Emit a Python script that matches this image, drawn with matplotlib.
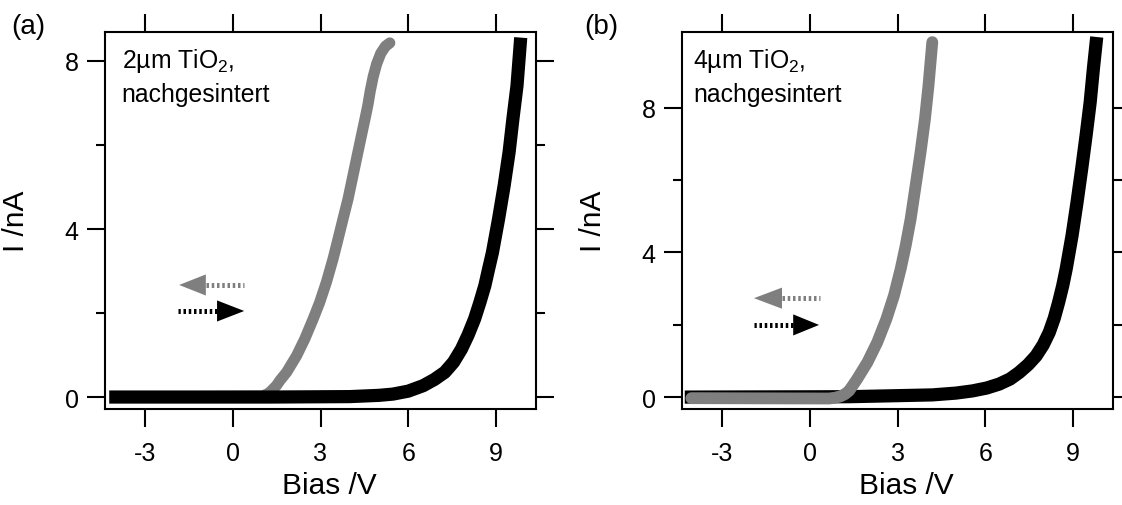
import matplotlib
matplotlib.use("Agg")
import matplotlib.pyplot as plt
from matplotlib.patches import Polygon

plt.rcParams['font.family'] = ['Liberation Sans', 'DejaVu Sans']
plt.rcParams['mathtext.fontset'] = 'custom'
plt.rcParams['mathtext.rm'] = 'Liberation Sans'
plt.rcParams['mathtext.it'] = 'Liberation Sans:italic'

# ---------------- data ----------------
# panel (a): 2 um TiO2
a_fwd_v = [-4.0, 1.34, 4.0, 5.0, 5.48, 6.0, 6.51, 6.9, 7.25, 7.55, 7.82, 8.05, 8.27, 8.45, 8.62,
           8.75, 8.88, 9.09, 9.28, 9.45, 9.58, 9.72, 9.83]
a_fwd_i = [0.0, 0.0, 0.01, 0.04, 0.07, 0.14, 0.27, 0.42, 0.59, 0.83, 1.14, 1.48, 1.86, 2.25, 2.65,
           3.05, 3.44, 4.24, 5.03, 5.83, 6.62, 7.41, 8.40]
a_rev_v = [5.37, 5.22, 5.06, 4.92, 4.80, 4.70, 4.62, 4.54, 4.46, 4.28, 4.11, 3.94, 3.77, 3.60,
           3.43, 3.20, 2.97, 2.75, 2.46, 2.18, 1.84, 1.62, 1.49, 1.32, 1.21, 1.0, -4.0]
a_rev_i = [8.43, 8.35, 8.18, 7.93, 7.62, 7.28, 6.95, 6.68, 6.42, 5.83, 5.27, 4.71, 4.24, 3.76,
           3.29, 2.73, 2.25, 1.86, 1.38, 0.98, 0.59, 0.40, 0.27, 0.15, 0.08, 0.02, 0.0]

# panel (b): 4 um TiO2
b_fwd_v = [-4.05, 1.34, 4.19, 5.0, 5.56, 6.05, 6.48, 6.85, 7.16, 7.47, 7.74, 7.98, 8.19, 8.36,
           8.51, 8.65, 8.77, 8.97, 9.14, 9.30, 9.45, 9.59, 9.70, 9.79]
b_fwd_i = [0.0, 0.01, 0.06, 0.11, 0.17, 0.25, 0.36, 0.50, 0.68, 0.90, 1.14, 1.44, 1.79, 2.18,
           2.62, 3.08, 3.55, 4.47, 5.39, 6.32, 7.24, 8.16, 9.09, 9.78]
b_rev_v = [4.19, 4.14, 4.06, 3.94, 3.79, 3.62, 3.45, 3.28, 3.11, 2.88, 2.62, 2.31, 1.97, 1.78,
           1.62, 1.47, 1.34, 1.20, 1.05, 0.85, 0.65, -4.05]
b_rev_i = [9.82, 9.36, 8.62, 7.70, 6.78, 5.85, 4.93, 4.19, 3.55, 2.81, 2.16, 1.52, 0.96, 0.71,
           0.50, 0.32, 0.17, 0.08, 0.02, -0.02, -0.04, -0.03]

x_ticks = [-3, 0, 3, 6, 9]
y_ticks = [0, 4, 8]
y_minor = [2, 6]
inset_labels = [("2µm TiO$_\\mathrm{2}$,", "nachgesintert"), ("4µm TiO$_\\mathrm{2}$,", "nachgesintert")]
panel_tags = ["(a)", "(b)"]

GRAY = '#7f7f7f'

W, H = 1122, 506
fig = plt.figure(figsize=(W / 100, H / 100), dpi=100)


def px_axes(x0, x1, y0, y1):
    return fig.add_axes([x0 / W, 1 - y1 / H, (x1 - x0) / W, (y1 - y0) / H])


ax_a = px_axes(105, 536, 33, 410)
ax_b = px_axes(682, 1113, 33, 410)


def style(ax, ylim):
    ax.set_xlim(-4.37, 10.37)
    ax.set_ylim(*ylim)
    ax.set_xticks(x_ticks)
    ax.set_xticklabels([str(t) for t in x_ticks])
    ax.set_yticks(y_ticks)
    ax.set_yticks(y_minor, minor=True)
    for s in ax.spines.values():
        s.set_linewidth(1.5)
    ax.tick_params(which='both', direction='out', top=True, right=True,
                   width=1.5, labelsize=18, colors='black')
    ax.tick_params(which='major', length=13)
    ax.tick_params(which='minor', length=6.5)
    ax.tick_params(axis='x', pad=10)
    ax.tick_params(axis='y', pad=6)
    ax.set_xlabel('Bias /V', fontsize=21.5)
    ax.set_ylabel('I /nA', fontsize=21.5)
    ax.xaxis.set_label_coords(0.52, -0.165)
    ax.yaxis.set_label_coords(-0.175, 0.5)


def arrow(ax, y, tip, base, tail, color):
    # dotted tail
    ax.plot([base, tail], [y, y], transform=ax.transAxes, color=color, lw=3.6,
            linestyle=(0, (0.5, 0.55)), dash_capstyle='butt', clip_on=False)
    hh = 0.028
    ax.add_patch(Polygon([[tip, y], [base, y + hh], [base, y - hh]], closed=True,
                         transform=ax.transAxes, facecolor=color, edgecolor='none'))


# panel (a): black over gray
ax_a.plot(a_rev_v, a_rev_i, color=GRAY, lw=8, solid_capstyle='round', solid_joinstyle='round', zorder=2)
ax_a.plot(a_fwd_v, a_fwd_i, color='black', lw=9.5, solid_capstyle='projecting', solid_joinstyle='round', zorder=3)
style(ax_a, (-0.285, 8.69))
arrow(ax_a, 0.329, 0.172, 0.234, 0.323, GRAY)
arrow(ax_a, 0.260, 0.323, 0.260, 0.169, 'black')

# panel (b): gray over black
ax_b.plot(b_fwd_v, b_fwd_i, color='black', lw=9.5, solid_capstyle='projecting', solid_joinstyle='round', zorder=2)
ax_b.plot(b_rev_v, b_rev_i, color=GRAY, lw=8.5, solid_capstyle='round', solid_joinstyle='round', zorder=3)
style(ax_b, (-0.33, 10.1))
arrow(ax_b, 0.294, 0.167, 0.232, 0.320, GRAY)
arrow(ax_b, 0.223, 0.318, 0.258, 0.167, 'black')

for ax, (l1, l2), x in zip([ax_a, ax_b], inset_labels, [0.039, 0.026]):
    ax.text(x, 0.907, l1, transform=ax.transAxes, fontsize=17.8, va='baseline', ha='left')
    ax.text(x, 0.817, l2, transform=ax.transAxes, fontsize=17.8, va='baseline', ha='left')

fig.text(11 / W, 1 - 27 / H, panel_tags[0], fontsize=20, va='center', ha='left')
fig.text(584 / W, 1 - 27 / H, panel_tags[1], fontsize=20, va='center', ha='left')

fig.savefig('out.png', dpi=100)
